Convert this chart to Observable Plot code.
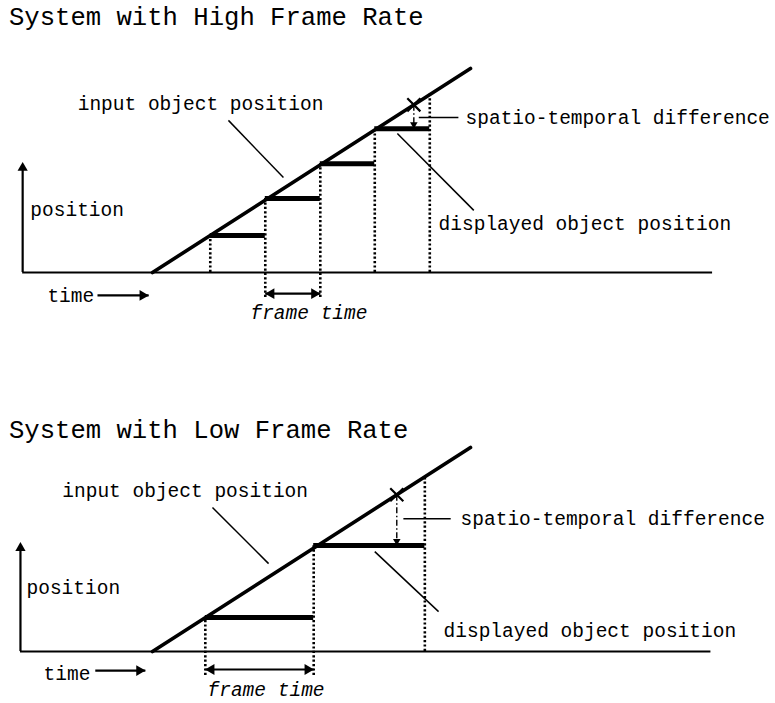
<!DOCTYPE html>
<html><head><meta charset="utf-8">
<script src="https://cdn.jsdelivr.net/npm/d3@7"></script>
<script src="https://cdn.jsdelivr.net/npm/@observablehq/plot@0.6"></script>
<style>
body{margin:0;background:#fff;}
#wrap{width:775px;height:703px;overflow:hidden;background:#fff;}
.title{font-family:"Liberation Mono","DejaVu Sans Mono",monospace;font-size:25.6px;padding-left:9px;white-space:pre;color:#000;}
svg{display:block;}
</style></head><body><div id="wrap"></div>
<script>
// ---------- data (time in high-rate frame units, position in same units) ----------
const titles = ["System with High Frame Rate", "System with Low Frame Rate"];

// input object position (ramp)
const rampTime = [0, 5.78];
const rampPos  = [0, 5.78];

// High frame rate panel
const highFrames      = [1.05, 2.05, 3.05, 4.04, 5.04];   // frame instants
const highFrameTop    = [1.05, 2.10, 3.08, 4.07, 5.07];   // dotted line tops (on ramp)
const highFrameBottom = [0, -0.71, -0.71, 0, 0];          // dotted line bottoms
const highDisplayed   = [1.05, 2.10, 3.08, 4.07];         // held (displayed) positions
const highDiffTime    = 4.75;                             // spatio-temporal difference instant
const highAxis        = {start: -2.36, end: 10.18, top: 3.12};

// Low frame rate panel
const lowFrames      = [0.96, 2.93, 4.95];
const lowFrameTop    = [0.96, 3.00, 4.92];
const lowFrameBottom = [-0.68, -0.68, 0];
const lowDisplayed   = [0.96, 3.00];
const lowDiffTime    = 4.44;
const lowAxis        = {start: -2.40, end: 10.15, top: 3.09};

// annotation labels: text, time, position
const labelTexts = ["input object position", "spatio-temporal difference", "displayed object position", "position", "time"];
const highLabelT = [-1.36, 5.69, 5.20, -2.22, -1.91];
const highLabelP = [4.79, 4.39, 1.39, 1.78, -0.65];
const lowLabelT  = [-1.64, 5.60, 5.29, -2.29, -1.98];
const lowLabelP  = [4.56, 3.76, 0.59, 1.81, -0.62];
const frameLabel = "frame time";
const highFrameLabel = {t: 1.78, p: -1.13};
const lowFrameLabel  = {t: 1.00, p: -1.07};

// leader lines: [t1, p1, t2, p2]
const highLeaders = [[1.38, 4.31, 2.38, 2.69], [4.84, 4.39, 5.56, 4.39], [4.45, 3.94, 5.84, 1.76]];
const lowLeaders  = [[1.09, 4.08, 2.11, 2.49], [4.56, 3.76, 5.42, 3.76], [4.04, 2.83, 5.20, 1.13]];

// arrows below the axis: time arrow [t1,t2,p], frame-time arrow [t1,t2,p]
const highTimeArrow  = [-1.00, -0.07, -0.65];
const highFrameArrow = [2.05, 3.05, -0.60];
const lowTimeArrow   = [-1.04, -0.13, -0.54];
const lowFrameArrow  = [0.96, 2.93, -0.51];

const FONT = '"Liberation Mono","DejaVu Sans Mono",monospace';

function panel(o) {
  const frames = o.frames.map((t, i) => ({t, top: o.frameTop[i], bottom: o.frameBottom[i]}));
  const bars = o.displayed.map((v, i) => ({t1: o.frames[i], t2: o.frames[i + 1], v}));
  const ramp = rampTime.map((t, i) => ({t, v: rampPos[i]}));
  const labels = labelTexts.map((text, i) => ({text, t: o.labelT[i], p: o.labelP[i]}));
  const leaders = o.leaders.map(([t1, p1, t2, p2]) => ({t1, p1, t2, p2}));
  const diffTop = o.diffTime;
  const diffBottom = o.displayed[o.displayed.length - 1];
  const k = "#000";
  return Plot.plot({
    width: 775, height: o.height, margin: 0,
    x: {domain: [rampTime[0], rampTime[1]], range: [152, 470], axis: null},
    y: {domain: [rampPos[0], rampPos[1]], range: [o.y0, o.y0 - 204], axis: null},
    style: {background: "white", color: k, overflow: "visible"},
    marks: [
      // axes
      Plot.ruleY([0], {x1: o.axis.start, x2: o.axis.end, stroke: k, strokeWidth: 2.2}),
      Plot.ruleX([o.axis.start], {y1: 0, y2: o.axis.top - 0.1, stroke: k, strokeWidth: 2.2}),
      Plot.dot([{t: o.axis.start, p: o.axis.top}], {x: "t", y: "p", symbol: "triangle", r: 3.8, fill: k, stroke: "none", dy: 5.5}),
      // dotted frame instants
      Plot.ruleX(frames, {x: "t", y1: "bottom", y2: "top", stroke: k, strokeWidth: 2.6, strokeDasharray: "2.2 2.2"}),
      // displayed (held) positions
      Plot.ruleY(bars, {x1: "t1", x2: "t2", y: "v", stroke: k, strokeWidth: 5}),
      // input object position
      Plot.line(ramp, {x: "t", y: "v", stroke: k, strokeWidth: 3.6}),
      // leader lines
      Plot.link(leaders, {x1: "t1", y1: "p1", x2: "t2", y2: "p2", stroke: k, strokeWidth: 1.5}),
      // spatio-temporal difference
      Plot.link([{t: o.diffTime, a: diffTop, b: diffBottom}], {x1: "t", x2: "t", y1: "a", y2: "b", stroke: k, strokeWidth: 1.4, strokeDasharray: "6 2.5 1.5 2.5"}),
      Plot.dot([{t: o.diffTime, p: diffTop}], {x: "t", y: "p", symbol: "times", r: 6, stroke: k, strokeWidth: 2.2}),
      Plot.dot([{t: o.diffTime, p: diffBottom}], {x: "t", y: "p", symbol: "triangle", r: 2.8, rotate: 180, fill: k, stroke: "none", dy: -4.5}),
      // time arrow
      Plot.link([{t1: o.timeArrow[0], t2: o.timeArrow[1], p: o.timeArrow[2]}], {x1: "t1", x2: "t2", y1: "p", y2: "p", stroke: k, strokeWidth: 2.2}),
      Plot.dot([{t: o.timeArrow[1], p: o.timeArrow[2]}], {x: "t", y: "p", symbol: "triangle", r: 4, rotate: 90, fill: k, stroke: "none", dx: -6}),
      // frame time double arrow
      Plot.link([{t1: o.frameArrow[0], t2: o.frameArrow[1], p: o.frameArrow[2]}], {x1: "t1", x2: "t2", y1: "p", y2: "p", stroke: k, strokeWidth: 2.2}),
      Plot.dot([{t: o.frameArrow[1], p: o.frameArrow[2]}], {x: "t", y: "p", symbol: "triangle", r: 4, rotate: 90, fill: k, stroke: "none", dx: -6}),
      Plot.dot([{t: o.frameArrow[0], p: o.frameArrow[2]}], {x: "t", y: "p", symbol: "triangle", r: 4, rotate: -90, fill: k, stroke: "none", dx: 6}),
      // labels
      Plot.text(labels, {x: "t", y: "p", text: "text", textAnchor: "start", fontFamily: FONT, fontSize: 19.5, fill: k}),
      Plot.text([{text: frameLabel, t: o.frameLabel.t, p: o.frameLabel.p}], {x: "t", y: "p", text: "text", textAnchor: "start", fontFamily: FONT, fontSize: 19.5, fontStyle: "italic", fill: k})
    ]
  });
}

const wrap = document.getElementById("wrap");
function addTitle(text, h) {
  const d = document.createElement("div");
  d.className = "title";
  d.style.height = h + "px";
  d.style.lineHeight = h + "px";
  d.textContent = text;
  wrap.appendChild(d);
}

addTitle(titles[0], 38);
wrap.appendChild(panel({
  height: 374, y0: 234,
  frames: highFrames, frameTop: highFrameTop, frameBottom: highFrameBottom,
  displayed: highDisplayed, diffTime: highDiffTime, axis: highAxis,
  labelT: highLabelT, labelP: highLabelP, leaders: highLeaders,
  timeArrow: highTimeArrow, frameArrow: highFrameArrow, frameLabel: highFrameLabel
}));
addTitle(titles[1], 40);
wrap.appendChild(panel({
  height: 251, y0: 199,
  frames: lowFrames, frameTop: lowFrameTop, frameBottom: lowFrameBottom,
  displayed: lowDisplayed, diffTime: lowDiffTime, axis: lowAxis,
  labelT: lowLabelT, labelP: lowLabelP, leaders: lowLeaders,
  timeArrow: lowTimeArrow, frameArrow: lowFrameArrow, frameLabel: lowFrameLabel
}));
</script></body></html>
